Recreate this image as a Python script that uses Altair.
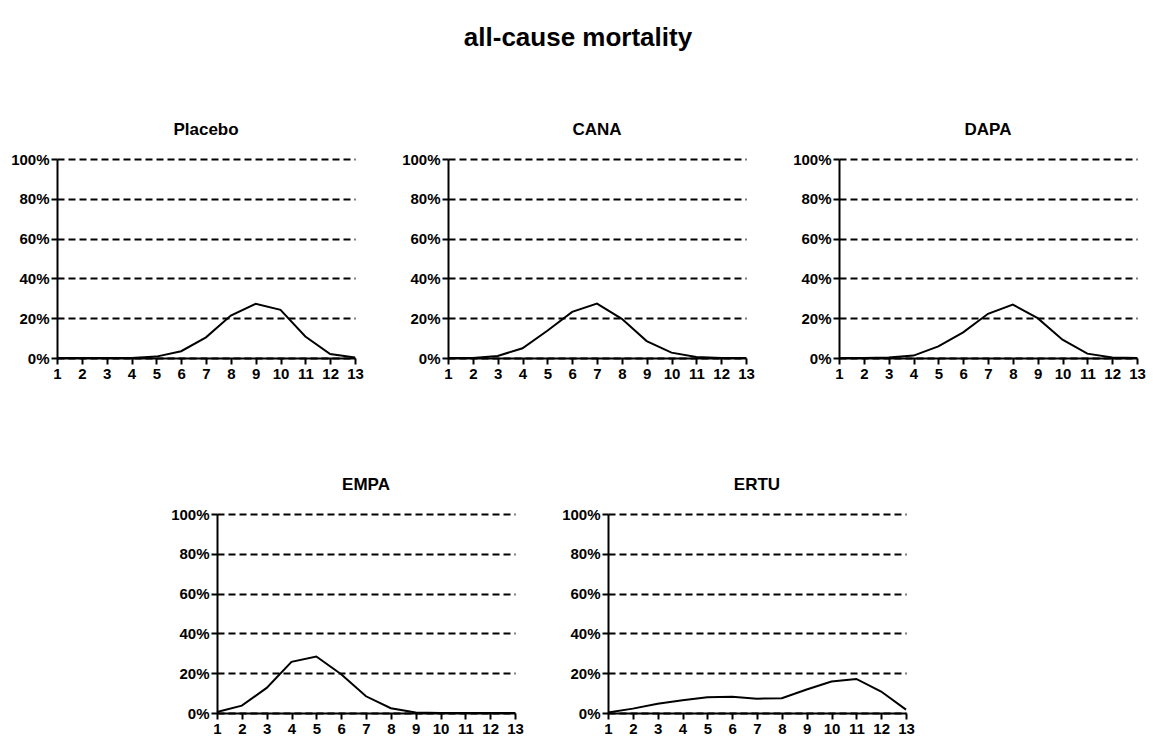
import altair as alt
import pandas as pd

weeks = list(range(1, 14))
placebo = [0, 0, 0, 0, 0.7, 3.4, 10.4, 21.3, 27.2, 24.2, 10.8, 2.0, 0.2]
cana = [0, 0, 1.0, 4.9, 13.7, 23.2, 27.3, 19.7, 8.5, 2.7, 0.5, 0, 0]
dapa = [0, 0, 0.2, 1.2, 5.8, 12.9, 22.2, 26.8, 20.0, 9.2, 2.2, 0.3, 0]
empa = [0.5, 3.7, 12.6, 25.7, 28.4, 19.5, 8.4, 2.4, 0.2, 0, 0, 0, 0]
ertu = [0.2, 2.2, 4.7, 6.4, 7.9, 8.2, 7.2, 7.4, 11.8, 15.8, 17.1, 10.8, 1.7]

y_ticks = [0, 20, 40, 60, 80, 100]

W, H = 298, 199
FONT = "Liberation Sans"
NOVIEW = alt.ViewBackground(stroke="transparent", strokeOpacity=0, strokeWidth=0)


def panel(name, vals):
    df = pd.DataFrame({"x": weeks, "y": vals})
    return (
        alt.Chart(df, title=alt.TitleParams(name, fontSize=17, fontWeight="bold",
                                            font=FONT, color="black", offset=13))
        .mark_line(color="black", strokeWidth=2)
        .encode(
            x=alt.X("x:Q", title=None,
                    scale=alt.Scale(domain=[1, 13], nice=False, zero=False),
                    axis=alt.Axis(values=weeks, format="d", grid=False,
                                  labelOverlap=False, labelFlush=False,
                                  domainColor="black", domainWidth=2,
                                  tickColor="black", tickWidth=2, tickSize=6,
                                  labelFont=FONT, labelFontSize=15,
                                  labelFontWeight="bold", labelColor="black",
                                  labelPadding=2)),
            y=alt.Y("y:Q", title=None,
                    scale=alt.Scale(domain=[0, 100], nice=False),
                    axis=alt.Axis(values=y_ticks,
                                  labelExpr="datum.value + '%'",
                                  labelOverlap=False, labelFlush=False,
                                  grid=True, gridDash=[7, 4], gridColor="black",
                                  gridWidth=2, gridOpacity=1,
                                  domainColor="black", domainWidth=2,
                                  tickColor="black", tickWidth=2, tickSize=6,
                                  labelFont=FONT, labelFontSize=15,
                                  labelFontWeight="bold", labelColor="black",
                                  labelPadding=2)),
        )
        .properties(width=W, height=H, view=NOVIEW)
    )


spacer = (
    alt.Chart(pd.DataFrame({"a": [0]}))
    .mark_point(opacity=0)
    .encode(x=alt.X("a:Q", axis=None), y=alt.Y("a:Q", axis=None))
    .properties(width=76, height=H, view=NOVIEW)
)

top = alt.hconcat(panel("Placebo", placebo), panel("CANA", cana), panel("DAPA", dapa), spacing=37)
bottom = alt.hconcat(spacer, panel("EMPA", empa), panel("ERTU", ertu), spacing=37)

chart = (
    alt.vconcat(top, bottom, spacing=95)
    .properties(
        title=alt.TitleParams("all-cause mortality", fontSize=26, fontWeight="bold",
                              font=FONT, color="black", anchor="middle", offset=70),
        padding={"left": 10, "top": 25, "right": 5, "bottom": 5},
    )
    .configure_view(strokeOpacity=0, strokeWidth=0)
    .configure(background="white")
)

chart.save("out.html", embed_options={"renderer": "svg", "actions": False})
